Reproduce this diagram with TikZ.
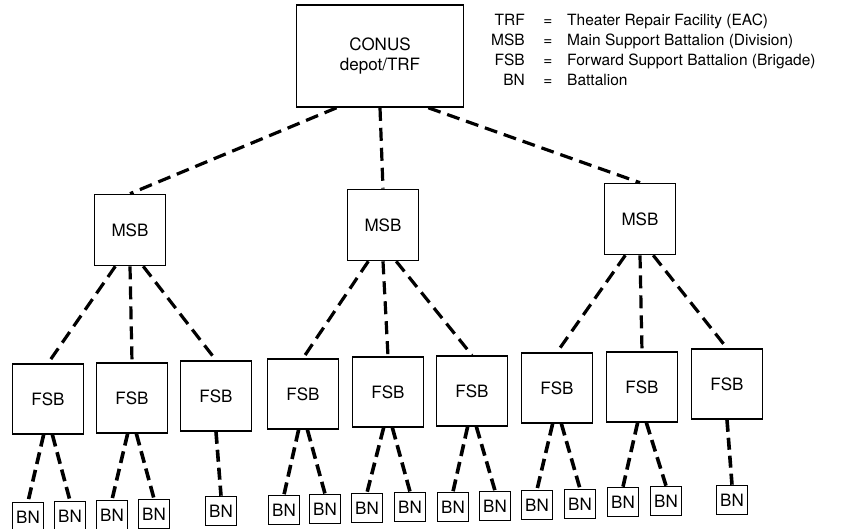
\documentclass[tikz,border=0pt]{standalone}
\usepackage{fontspec}
\setmainfont{TeX Gyre Heros}
\begin{document}
\begin{tikzpicture}[x=1pt, y=-1pt,
    unit/.style = {draw, line width=1.6pt, minimum width=71pt, minimum height=70pt, inner sep=1pt, font=\fontsize{17}{20}\selectfont},
    bat/.style = {unit, minimum width=31pt, minimum height=29pt},
    link/.style = {line width=3.2pt, dash pattern=on 13pt off 7pt},
    batlink/.style = {line width=3.6pt, dash pattern=on 12pt off 6pt},
    key/.style = {font=\fontsize{15.5}{18}\selectfont, inner sep=0pt}]
        \useasboundingbox (0,0) rectangle (855,529);
        % top level
        \node[unit, minimum width=167pt, minimum height=102pt, align=center] (conus) at (380,56) {CONUS\\depot/TRF};
        % legend
        \node[key, anchor=base east] (trf) at (525,26) {TRF};
        \node[key, anchor=base] (trfeq) at (548,26) {=};
        \node[key, anchor=base west] (trfdef) at (567,26) {Theater Repair Facility (EAC)};
        \node[key, anchor=base east] (msb) at (525,46) {MSB};
        \node[key, anchor=base] (msbeq) at (548,46) {=};
        \node[key, anchor=base west] (msbdef) at (567,46) {Main Support Battalion (Division)};
        \node[key, anchor=base east] (fsb) at (525,66) {FSB};
        \node[key, anchor=base] (fsbeq) at (548,66) {=};
        \node[key, anchor=base west] (fsbdef) at (567,66) {Forward Support Battalion (Brigade)};
        \node[key, anchor=base east] (bn) at (525,86) {BN};
        \node[key, anchor=base] (bneq) at (548,86) {=};
        \node[key, anchor=base west] (bndef) at (567,86) {Battalion};
        % main support battalions
        \node[unit, minimum height=71pt] (msb1) at (130,230) {MSB};
        \node[unit, minimum height=71pt] (msb2) at (383,225) {MSB};
        \node[unit, minimum height=71pt] (msb3) at (640,219) {MSB};
        % forward support battalions
        \node[unit] (fsb1) at (48,399) {FSB};
        \node[unit] (fsb2) at (132,398) {FSB};
        \node[unit] (fsb3) at (216,396) {FSB};
        \node[unit] (fsb4) at (303,394) {FSB};
        \node[unit] (fsb5) at (388,392) {FSB};
        \node[unit] (fsb6) at (472,391) {FSB};
        \node[unit] (fsb7) at (557,388) {FSB};
        \node[unit] (fsb8) at (642,387) {FSB};
        \node[unit] (fsb9) at (727,384) {FSB};
        % battalions
        \node[bat] (bn1) at (28,517) {BN};
        \node[bat] (bn2) at (70,516) {BN};
        \node[bat] (bn3) at (112,515) {BN};
        \node[bat] (bn4) at (154,514) {BN};
        \node[bat] (bn5) at (221,511) {BN};
        \node[bat] (bn6) at (284,510) {BN};
        \node[bat] (bn7) at (325,509) {BN};
        \node[bat] (bn8) at (367,508) {BN};
        \node[bat] (bn9) at (410,507) {BN};
        \node[bat] (bn10) at (453,507) {BN};
        \node[bat] (bn11) at (495,506) {BN};
        \node[bat] (bn12) at (537,505) {BN};
        \node[bat] (bn13) at (580,504) {BN};
        \node[bat] (bn14) at (623,502) {BN};
        \node[bat] (bn15) at (666,501) {BN};
        \node[bat] (bn16) at (732,500) {BN};
        % links
        \draw[link] (conus.-130) -- (msb1.north);
        \draw[link] (conus.south) -- (msb2.north);
        \draw[link] (conus.-47) -- (msb3.north);
        \draw[link] (msb1.-112) -- (fsb1.north);
        \draw[link] (msb1.south) -- (fsb2.north);
        \draw[link] (msb1.-70) -- (fsb3.north);
        \draw[link] (msb2.-112) -- (fsb4.north);
        \draw[link] (msb2.south) -- (fsb5.north);
        \draw[link] (msb2.-70) -- (fsb6.north);
        \draw[link] (msb3.-112) -- (fsb7.north);
        \draw[link] (msb3.south) -- (fsb8.north);
        \draw[link] (msb3.-70) -- (fsb9.north);
        \draw[batlink] (fsb1.-97) -- (bn1.north);
        \draw[batlink] (fsb1.-83) -- (bn2.north);
        \draw[batlink] (fsb2.-97) -- (bn3.north);
        \draw[batlink] (fsb2.-83) -- (bn4.north);
        \draw[batlink] (fsb3.south) -- (bn5.north);
        \draw[batlink] (fsb4.-97) -- (bn6.north);
        \draw[batlink] (fsb4.-83) -- (bn7.north);
        \draw[batlink] (fsb5.-97) -- (bn8.north);
        \draw[batlink] (fsb5.-83) -- (bn9.north);
        \draw[batlink] (fsb6.-97) -- (bn10.north);
        \draw[batlink] (fsb6.-83) -- (bn11.north);
        \draw[batlink] (fsb7.-97) -- (bn12.north);
        \draw[batlink] (fsb7.-83) -- (bn13.north);
        \draw[batlink] (fsb8.-97) -- (bn14.north);
        \draw[batlink] (fsb8.-83) -- (bn15.north);
        \draw[batlink] (fsb9.south) -- (bn16.north);
    \end{tikzpicture}
\end{document}
